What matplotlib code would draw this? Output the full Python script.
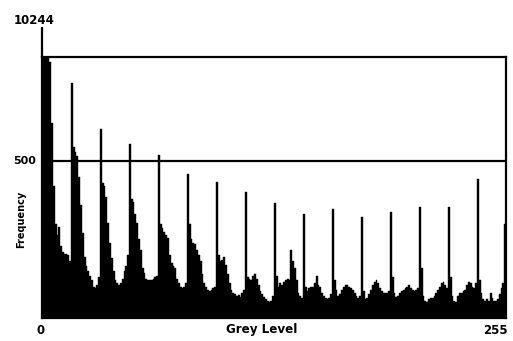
import numpy as np
import matplotlib
matplotlib.use("Agg")
import matplotlib.pyplot as plt

# ---- data ----
grey_levels = list(range(256))
frequency = [
    # 0-15
    10244, 900, 880, 850, 815, 620, 420, 300, 265, 290, 230, 210, 205, 205, 200, 180,
    # 16-31
    747, 545, 530, 515, 450, 360, 270, 195, 165, 150, 135, 120, 100, 96, 105, 130,
    # 32-47
    601, 430, 420, 386, 302, 239, 190, 150, 120, 111, 105, 110, 125, 150, 165, 200,
    # 48-63
    553, 380, 370, 330, 302, 250, 217, 160, 143, 125, 121, 120, 120, 125, 130, 135,
    # 64-79
    519, 300, 285, 275, 265, 255, 200, 175, 165, 160, 125, 110, 100, 96, 100, 110,
    # 80-95
    459, 300, 250, 240, 235, 215, 200, 180, 140, 110, 100, 90, 85, 90, 95, 100,
    # 96-111
    433, 200, 180, 185, 195, 170, 140, 110, 90, 80, 75, 70, 72, 68, 80, 90,
    # 112-127
    402, 130, 125, 120, 135, 140, 125, 105, 85, 75, 68, 60, 55, 50, 55, 70,
    # 128-143
    367, 135, 100, 110, 105, 115, 120, 125, 120, 215, 180, 160, 120, 80, 70, 65,
    # 144-159
    330, 100, 85, 95, 100, 100, 110, 135, 105, 100, 80, 70, 65, 60, 65, 75,
    # 160-175
    346, 120, 90, 70, 75, 90, 100, 105, 105, 100, 95, 90, 80, 70, 65, 70,
    # 176-191
    323, 85, 60, 65, 75, 90, 105, 115, 120, 110, 95, 85, 80, 80, 80, 85,
    # 192-207
    339, 130, 80, 68, 70, 80, 85, 90, 95, 100, 105, 95, 90, 85, 90, 95,
    # 208-223
    355, 160, 70, 55, 50, 60, 65, 65, 70, 80, 90, 100, 110, 115, 105, 95,
    # 224-239
    355, 130, 70, 55, 50, 70, 80, 80, 85, 90, 105, 115, 110, 100, 95, 110,
    # 240-255
    443, 120, 80, 60, 55, 60, 55, 80, 65, 55, 55, 60, 75, 95, 110, 299,
]
y_tick_values = [500]
y_tick_labels = ["500"]
top_label = "10244"
x_labels = ["0", "255"]
frame_top = 831       # value at the top frame line
axis_extension = 927  # left axis line extends above the frame

W, H = 513, 341
fig = plt.figure(figsize=(W / 100, H / 100), dpi=100)
fig.patch.set_facecolor("white")
ax = fig.add_axes([42 / W, (H - 318) / H, 464 / W, 261 / H])

ax.bar(grey_levels, frequency, width=1.0, color="black", edgecolor="black",
       linewidth=0.3, align="center")
ax.set_xlim(-0.5, 255.5)
ax.set_ylim(0, frame_top)

for s in ax.spines.values():
    s.set_linewidth(1.6)
    s.set_color("black")

ax.axhline(500, color="black", linewidth=1.6)
ax.set_xticks([])
ax.set_yticks([])

# left axis extension above frame
ax.plot([-0.5, -0.5], [frame_top, axis_extension], color="black", lw=1.6,
        clip_on=False, solid_capstyle="butt")

bold = dict(fontweight="bold", color="black", family="DejaVu Sans")
fig.text(34 / W, 1 - 21 / H, top_label, ha="center", va="center", fontsize=8.5, **bold)
ax.text(-3.5, y_tick_values[0], y_tick_labels[0], ha="right", va="center", fontsize=8, **bold)
fig.text(21.5 / W, 1 - 219 / H, "Frequency", rotation=90, ha="center", va="center",
         fontsize=7, **bold)
fig.text(41 / W, 1 - 330 / H, x_labels[0], ha="center", va="center", fontsize=8.5, **bold)
fig.text(495 / W, 1 - 330 / H, x_labels[1], ha="center", va="center", fontsize=8.5, **bold)
fig.text(262 / W, 1 - 330 / H, "Grey Level", ha="center", va="center", fontsize=9.5,
         fontweight="bold", family="DejaVu Sans", fontstretch="condensed", color="black")

fig.savefig("out.png", dpi=100, facecolor="white")
